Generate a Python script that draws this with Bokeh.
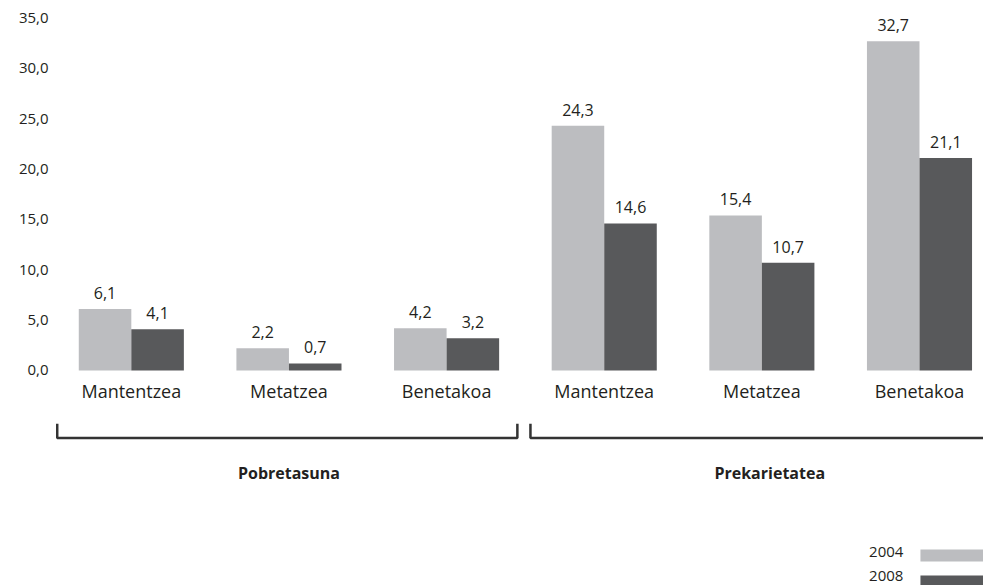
from bokeh.plotting import figure
from bokeh.models import Range1d, FixedTicker, ColumnDataSource
from bokeh.core.properties import value
from bokeh.embed import file_html
from bokeh.resources import INLINE

# ---- data ----
categories = ["Mantentzea", "Metatzea", "Benetakoa", "Mantentzea", "Metatzea", "Benetakoa"]
groups = ["Pobretasuna", "Prekarietatea"]
group_members = [[0, 1, 2], [3, 4, 5]]
series_names = ["2004", "2008"]
values_2004 = [6.1, 2.2, 4.2, 24.3, 15.4, 32.7]
values_2008 = [4.1, 0.7, 3.2, 14.6, 10.7, 21.1]
y_ticks = [0, 5, 10, 15, 20, 25, 30, 35]

# ---- styling ----
LIGHT = "#BCBDC0"
DARK = "#58595B"
TEXT = "#231F20"
FONT = "Open Sans"
BAR_W = 1.0 / 3.0

def fmt(v):
    return ("%.1f" % v).replace(".", ",")

idx = list(range(len(categories)))

p = figure(width=983, height=585, output_backend="svg", toolbar_location=None,
           x_range=Range1d(-0.5, 5.406), y_range=Range1d(-21.35, 36.74),
           x_axis_location=None, min_border_left=52, min_border_right=0,
           min_border_top=0, min_border_bottom=0)
p.outline_line_color = None
p.xgrid.visible = False
p.ygrid.visible = False
p.background_fill_color = "white"
p.border_fill_color = "white"

# y axis
ya = p.yaxis[0]
ya.ticker = FixedTicker(ticks=y_ticks)
ya.major_label_overrides = {t: fmt(t) for t in y_ticks}
ya.axis_line_color = None
ya.major_tick_line_color = None
ya.minor_tick_line_color = None
ya.major_tick_out = 0
ya.major_tick_in = 0
ya.minor_tick_out = 0
ya.major_label_standoff = 4
ya.major_label_text_font = FONT
ya.major_label_text_font_size = "15px"
ya.major_label_text_color = TEXT

# bars
x04 = [i - BAR_W / 2 for i in idx]
x08 = [i + BAR_W / 2 for i in idx]
src04 = ColumnDataSource(dict(x=x04, top=values_2004, lab=[fmt(v) for v in values_2004]))
src08 = ColumnDataSource(dict(x=x08, top=values_2008, lab=[fmt(v) for v in values_2008]))
p.vbar(x="x", top="top", bottom=0, width=BAR_W, source=src04, fill_color=LIGHT, line_color=None)
p.vbar(x="x", top="top", bottom=0, width=BAR_W, source=src08, fill_color=DARK, line_color=None)

for src in (src04, src08):
    p.text(x="x", y="top", text="lab", source=src, text_align="center", text_baseline="middle",
           y_offset=-16, text_font=value(FONT), text_font_size="16px", text_color=TEXT)

# category labels
cat_src = ColumnDataSource(dict(x=idx, y=[-2.0] * len(idx), t=categories))
p.text(x="x", y="y", text="t", source=cat_src, text_align="center", text_baseline="middle",
       text_font=value(FONT), text_font_size="18px", text_color=TEXT)

# group brackets
bx0 = [-0.47, 2.532]
bx1 = [2.449, 5.565]
by_line = -6.7
by_top = -5.3
xs, ys = [], []
for a, b in zip(bx0, bx1):
    xs.append([a, a, b, b])
    ys.append([by_top, by_line, by_line, by_top])
p.multi_line(xs=xs, ys=ys, line_color="#333333", line_width=2.5)

gx = [sum(m) / len(m) for m in group_members]
gx = [gx[0], gx[1] + 0.05]
p.text(x=gx, y=[-10.2, -10.2], text=groups, text_align="center", text_baseline="middle",
       text_font=value(FONT), text_font_size="16px", text_font_style="bold", text_color=TEXT)

# legend (label left of swatch)
sw_y = [-18.37, -20.95]
lab_y = [-18.07, -20.36]
p.quad(left=[5.006, 5.006], right=[5.406, 5.406],
       bottom=[sw_y[0] - 0.6, sw_y[1] - 0.6], top=[sw_y[0] + 0.6, sw_y[1] + 0.6],
       fill_color=[LIGHT, DARK], line_color=None)
p.text(x=[4.898, 4.898], y=lab_y, text=series_names, text_align="right", text_baseline="middle",
       text_font=value(FONT), text_font_size="15px", text_color=TEXT)

open("out.html", "w").write(file_html(p, INLINE))
